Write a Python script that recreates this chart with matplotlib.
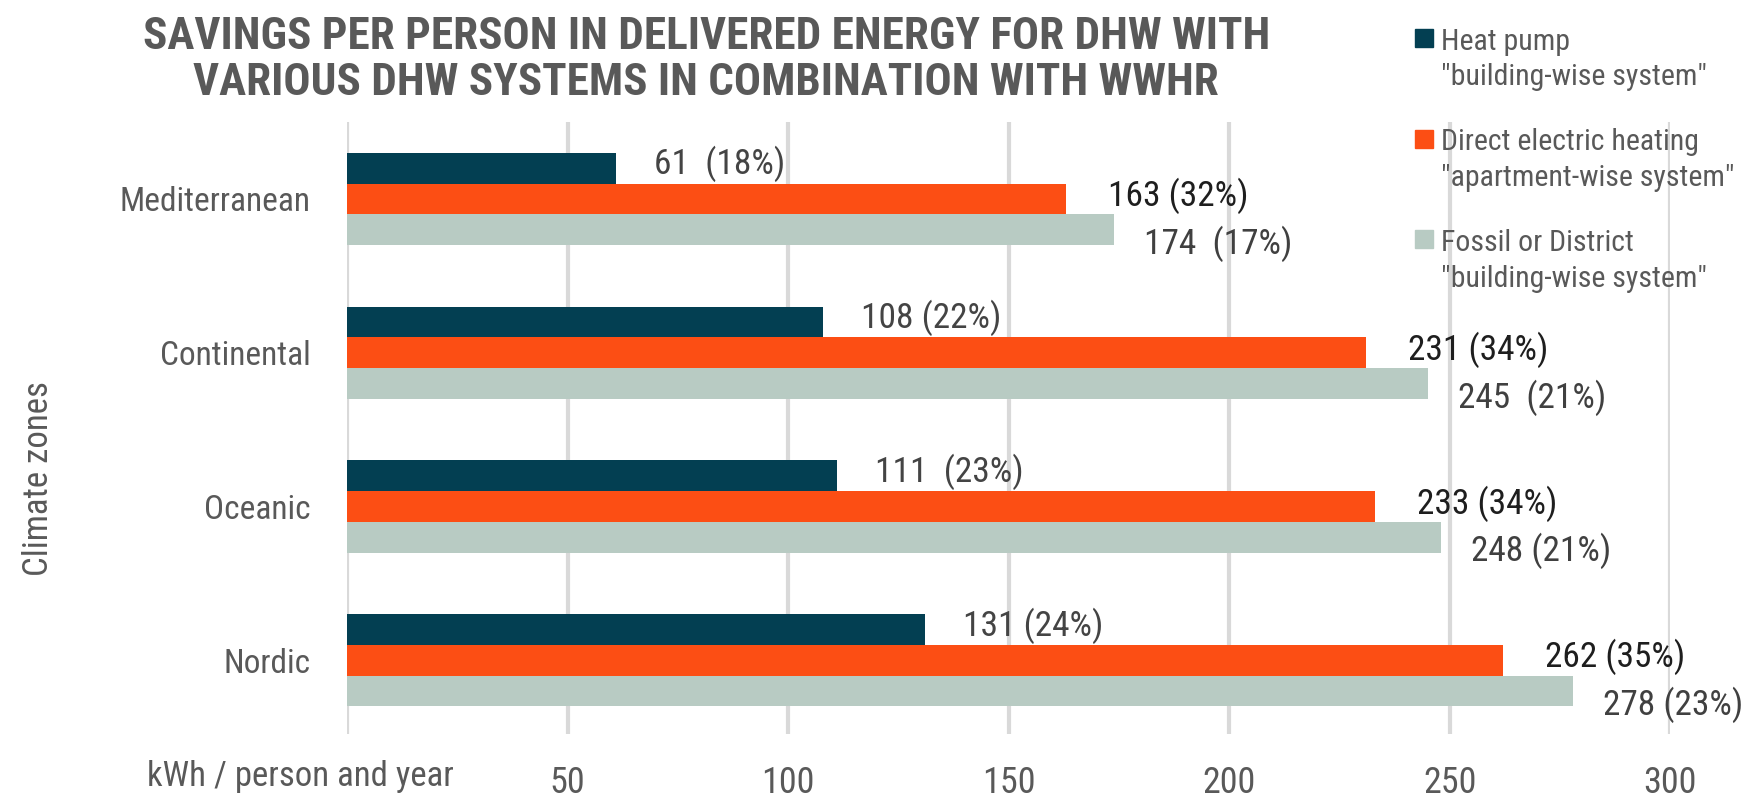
import matplotlib
matplotlib.use("Agg")
from matplotlib import pyplot as plt
from matplotlib import font_manager
from matplotlib.patches import Rectangle
import numpy as np

# climate zones, listed bottom to top
zones = ["Nordic", "Oceanic", "Continental", "Mediterranean"]

heat_pump = [131, 111, 108, 61]
direct_electric = [262, 233, 231, 163]
fossil_district = [278, 248, 245, 174]

heat_pump_labels = ["131 (24%)", "111  (23%)", "108 (22%)", "61  (18%)"]
direct_electric_labels = ["262 (35%)", "233 (34%)", "231 (34%)", "163 (32%)"]
fossil_district_labels = ["278 (23%)", "248 (21%)", "245  (21%)", "174  (17%)"]

series_names = [
    'Heat pump\n"building-wise system"',
    'Direct electric heating\n"apartment-wise system"',
    'Fossil or District\n"building-wise system"',
]
colors = ["#033f52", "#fc4e14", "#b8cbc3"]
x_ticks = [50, 100, 150, 200, 250, 300]


def pick_font(candidates):
    for name in candidates:
        try:
            font_manager.findfont(name, fallback_to_default=False)
            return name
        except ValueError:
            continue
    return "DejaVu Sans"


narrow = pick_font(["Liberation Sans Narrow", "Arial Narrow", "Roboto Condensed", "Liberation Sans"])
plt.rcParams["font.family"] = [narrow, "DejaVu Sans"]

grey_text = "#595959"

fig = plt.figure(figsize=(17.44, 8.0), dpi=100)
ax = fig.add_axes([0.199, 0.0825, 0.7587, 0.765])

y = np.arange(len(zones))
h = 0.2
series = [
    (heat_pump, heat_pump_labels, y + h, (38, 4), "#444444"),
    (direct_electric, direct_electric_labels, y, (42, 3), "#1e1e1e"),
    (fossil_district, fossil_district_labels, y - h, (30, -14), "#404040"),
]
for (vals, labels, pos, off, tcolor), color in zip(series, colors):
    ax.barh(pos, vals, height=h, color=color, zorder=2)
    for v, p, lab in zip(vals, pos, labels):
        ax.annotate(lab, (v, p), xytext=off, textcoords="offset pixels",
                    ha="left", va="center", fontsize=25.5, color=tcolor,
                    annotation_clip=False)

ax.set_xlim(0, 300)
ax.set_ylim(-0.48, 3.5)
ax.set_xticks(x_ticks)
ax.set_yticks(y)
ax.set_yticklabels(zones)
ax.grid(axis="x", color="#d9d9d9", linewidth=3, zorder=0)
ax.axvline(0, color="#d9d9d9", linewidth=3, zorder=1)
for s in ax.spines.values():
    s.set_visible(False)
ax.tick_params(axis="x", length=0, pad=22, labelsize=26, labelcolor=grey_text)
ax.tick_params(axis="y", length=0, pad=26, labelsize=24, labelcolor=grey_text)
ax.set_ylabel("Climate zones", fontsize=25, color=grey_text, labelpad=0)
ax.yaxis.set_label_coords(-0.221, 0.418)
ax.text(-0.035, -0.07, "kWh / person and year", transform=ax.transAxes,
        ha="center", va="center", fontsize=25, color=grey_text)

fig.text(0.405, 0.925,
         "SAVINGS PER PERSON IN DELIVERED ENERGY FOR DHW WITH\nVARIOUS DHW SYSTEMS IN COMBINATION WITH WWHR",
         ha="center", va="center", fontsize=32.5, fontweight="bold",
         color=grey_text, linespacing=1.15)

# legend drawn by hand: square next to first line of each entry
for i, (name, color) in enumerate(zip(series_names, colors)):
    top = 0.9435 - i * 0.126
    fig.patches.append(Rectangle((1415 / 1744, top - 0.002), 18 / 1744, 18 / 800,
                                 transform=fig.transFigure, color=color))
    fig.text(1441 / 1744, top + 0.022, name, ha="left", va="top",
             fontsize=21.5, color=grey_text, linespacing=1.35)

fig.savefig("out.png", dpi=100)
